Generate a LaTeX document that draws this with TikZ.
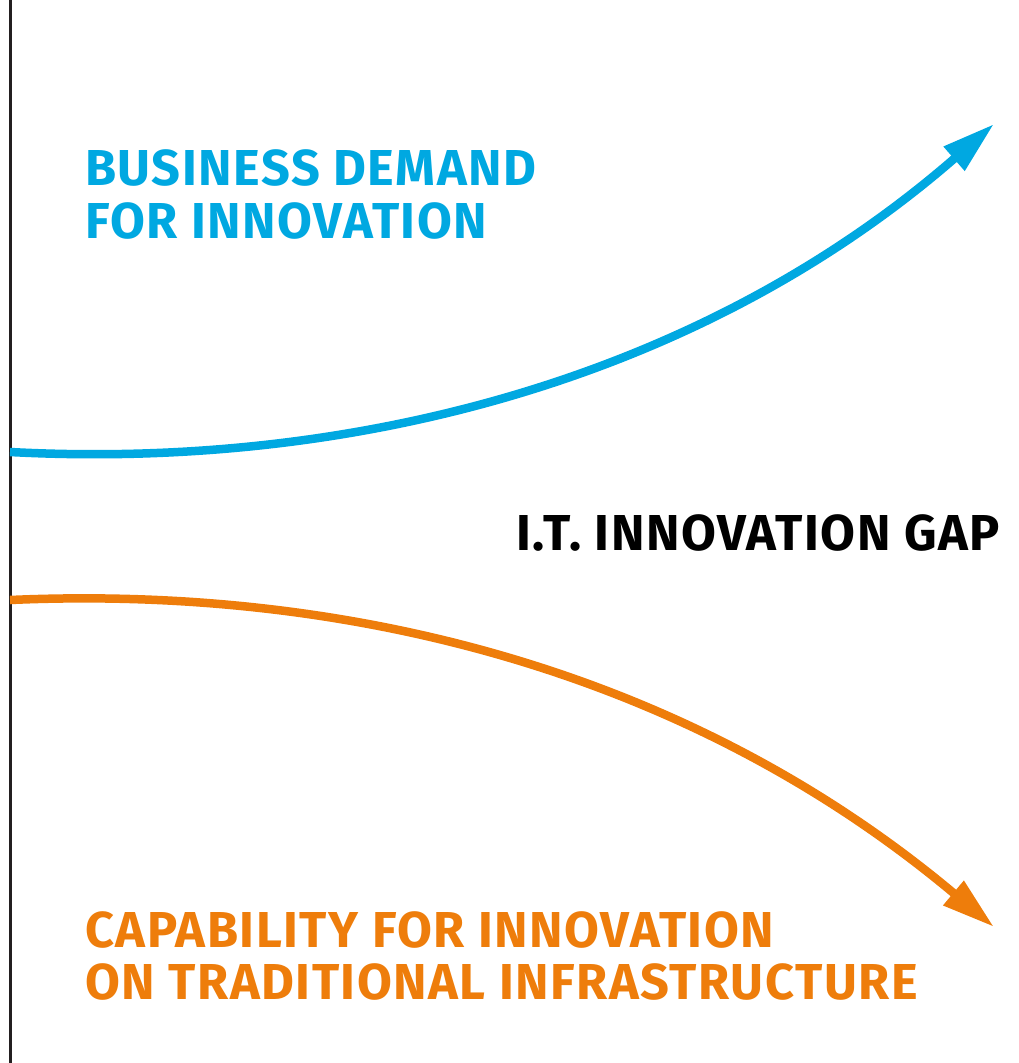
\documentclass[tikz,border=0pt]{standalone}
\usepackage{fontspec}
\setmainfont{Fira Sans}[LetterSpace=3]
\usetikzlibrary{arrows.meta}
\definecolor{demandblue}{HTML}{00A8E1}
\definecolor{capaorange}{HTML}{EE7D0B}
\definecolor{axisgray}{HTML}{231F20}
\begin{document}
\begin{tikzpicture}[x=1pt,y=-1pt,
  lbl/.style={anchor=base west,inner sep=0pt,font=\bfseries\fontsize{50.5}{53}\selectfont},
  trend/.style={line width=8.5pt,-{Triangle[length=53pt,width=30pt]}}]
\useasboundingbox (0,0) rectangle (1019,1063);
\coordinate (axtop) at (10,0);
\coordinate (axbot) at (10,1063);
\draw[axisgray,line width=3pt] (axtop) -- (axbot);
\coordinate (b0) at (10,452);
\coordinate (b1) at (350,470);
\coordinate (b2) at (700,380);
\coordinate (b3) at (994,124);
\draw[trend,demandblue] (b0) .. controls (b1) and (b2) .. (b3);
\coordinate (o0) at (10,600);
\coordinate (o1) at (350,585);
\coordinate (o2) at (690,672);
\coordinate (o3) at (994,927);
\draw[trend,capaorange] (o0) .. controls (o1) and (o2) .. (o3);
\node[lbl,text=demandblue] (bd1) at (85,185) {BUSINESS DEMAND};
\node[lbl,text=demandblue] (bd2) at (85,238) {FOR INNOVATION};
\node[lbl,text=black,anchor=base east] (gap) at (1000,550) {I.T. INNOVATION GAP};
\node[lbl,text=capaorange] (ca1) at (85,947) {CAPABILITY FOR INNOVATION};
\node[lbl,text=capaorange] (ca2) at (85,999) {ON TRADITIONAL INFRASTRUCTURE};
\end{tikzpicture}
\end{document}
